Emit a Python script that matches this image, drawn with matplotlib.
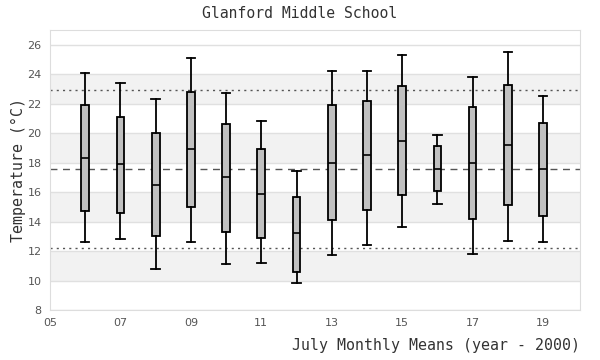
import matplotlib
matplotlib.use("Agg")
import matplotlib.pyplot as plt
import numpy as np

# July monthly means per year (year - 2000)
years = [6, 7, 8, 9, 10, 11, 12, 13, 14, 15, 16, 17, 18, 19]
whisker_hi = [24.1, 23.4, 22.3, 25.1, 22.7, 20.8, 17.4, 24.2, 24.2, 25.3, 19.9, 23.8, 25.5, 22.5]
q3 = [21.9, 21.1, 20.0, 22.8, 20.6, 18.9, 15.7, 21.9, 22.2, 23.2, 19.1, 21.8, 23.3, 20.7]
medians = [18.3, 17.9, 16.5, 18.9, 17.0, 15.9, 13.2, 18.0, 18.5, 19.5, 17.6, 18.0, 19.2, 17.6]
q1 = [14.7, 14.6, 13.0, 15.0, 13.3, 12.9, 10.6, 14.1, 14.8, 15.8, 16.1, 14.2, 15.1, 14.4]
whisker_lo = [12.6, 12.8, 10.8, 12.6, 11.1, 11.2, 9.8, 11.7, 12.4, 13.6, 15.2, 11.8, 12.7, 12.6]

overall_mean = 17.55
upper_ref = 22.92
lower_ref = 12.19

xticks = [5, 7, 9, 11, 13, 15, 17, 19]
band_edges = [(10, 12), (14, 16), (18, 20), (22, 24)]

mono = "DejaVu Sans Mono"
txt_col = "#333333"

fig = plt.figure(figsize=(6, 3.6), dpi=100)
ax = fig.add_axes([50 / 600, 50 / 360, 530 / 600, 280 / 360])

for lo, hi in band_edges:
    ax.axhspan(lo, hi, color="#f2f2f2", zorder=0, lw=0)
ax.set_axisbelow(True)
ax.yaxis.grid(True, color="#e0e0e0", lw=1)

stats = []
for i in range(len(years)):
    stats.append(dict(med=medians[i], q1=q1[i], q3=q3[i],
                      whislo=whisker_lo[i], whishi=whisker_hi[i], fliers=[]))

ax.bxp(stats, positions=years, widths=0.22, patch_artist=True, showfliers=False,
       boxprops=dict(facecolor="#c0c0c0", edgecolor="black", lw=1.3),
       medianprops=dict(color="black", lw=1.2),
       whiskerprops=dict(color="black", lw=1.3),
       capprops=dict(color="black", lw=1.3), capwidths=0.24, zorder=3)

ax.axhline(overall_mean, color="#555555", ls=(0, (5, 4)), lw=1, zorder=2)
ax.axhline(upper_ref, color="#555555", ls=(0, (1.5, 3)), lw=1, zorder=2)
ax.axhline(lower_ref, color="#555555", ls=(0, (1.5, 3)), lw=1, zorder=2)

ax.set_xlim(5, 20.05)
ax.set_ylim(8, 27)
ax.set_xticks(xticks)
ax.set_xticklabels(["%02d" % x for x in xticks])
ax.set_yticks(np.arange(8, 27, 2))
ax.tick_params(length=0, labelsize=8, colors="#555555", pad=6)
for s in ax.spines.values():
    s.set_color("#dddddd")

fig.text(0.5, 1 - 14 / 360, "Glanford Middle School", family=mono, fontsize=10.6,
         color=txt_col, ha="center", va="center")
ax.set_ylabel("Temperature (°C)", family=mono, fontsize=10.7, color=txt_col, labelpad=1)
ax.set_xlabel("July Monthly Means (year - 2000)", family=mono, fontsize=10.7,
              color=txt_col, loc="right", labelpad=7)

fig.savefig("out.png", dpi=100)
